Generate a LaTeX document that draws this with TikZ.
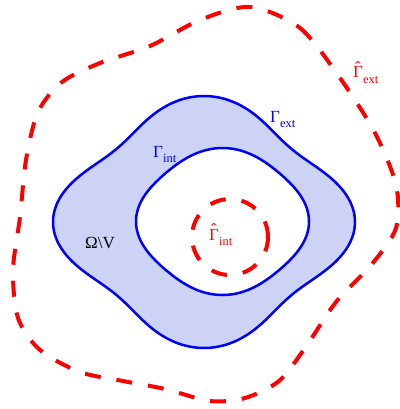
\documentclass[tikz,border=0pt]{standalone}
\usepackage{fontspec}
\setmainfont{Liberation Serif}
\definecolor{regionblue}{RGB}{204,211,245}
\newcommand{\lowsub}[1]{\raisebox{-5.5pt}{\fontsize{12.5}{12.5}\selectfont #1}}
\newcommand{\hatgam}{\makebox[0pt][l]{\hspace{1.8pt}\raisebox{4.2pt}{\char"02C6}}Γ}

\begin{document}
\begin{tikzpicture}[x=1pt, y=-1pt, font=\fontsize{17}{20}\selectfont]
    \tikzset{bnd/.style={draw=blue, line width=2.5pt},
             aux/.style={draw=red, line width=4pt, dash pattern=on 16pt off 16pt},
             lab/.style={inner sep=0pt, anchor=base west}}
    \useasboundingbox (0,0) rectangle (399,409);
    \path[bnd, fill=regionblue, even odd rule]
      plot[domain=0:360, samples=145, smooth]
        ({204+151*cos(\x)*(1-0.18*sin(2*\x)^2)}, {222+126*sin(\x)*(1-0.18*sin(2*\x)^2)}) -- cycle
      plot[domain=0:360, samples=145, smooth]
        ({222.5+86.5*cos(\x)*(1-0.07*sin(2*\x)^2)}, {221.5+73.5*sin(\x)*(1-0.07*sin(2*\x)^2)}) -- cycle;
    \draw[aux] plot[smooth cycle] coordinates {(250,7) (300,28) (340,78) (375,133) (396,185)
      (396,228) (372,264) (336,302) (305,348) (279,381) (245,398) (210,401) (165,389)
      (123,381) (80,372) (40,350) (18,318) (13,270) (20,217) (26,160) (38,112) (62,82)
      (100,63) (150,46) (200,20)};
    \draw[aux] (230,237) circle (38pt);
    \node[lab, text=red]  (hgext) at (353,78)  {\hatgam\lowsub{ext}};
    \node[lab, text=blue] (gext)  at (270,122) {Γ\lowsub{ext}};
    \node[lab, text=blue] (gint)  at (153,157) {Γ\lowsub{int}};
    \node[lab]            (omv)   at (85,248)  {Ω\textbackslash V};
    \node[lab, text=red]  (hgint) at (209,240) {\hatgam\lowsub{int}};
\end{tikzpicture}
\end{document}
